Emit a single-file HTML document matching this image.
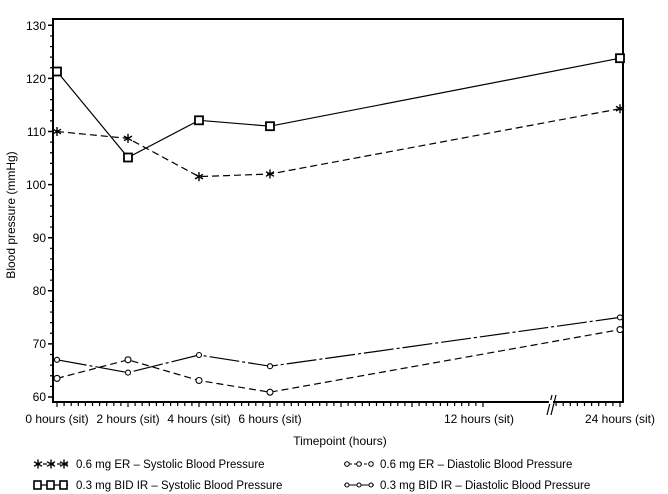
<!DOCTYPE html>
<html><head><style>
html,body{margin:0;padding:0;background:#fff;}
svg{display:block;font-family:"Liberation Sans",Arial,sans-serif;}
</style></head><body>
<svg width="668" height="494" viewBox="0 0 668 494" xmlns="http://www.w3.org/2000/svg">
<defs>
<g id="ast" stroke="#000" stroke-width="1.4" fill="none">
<path d="M0 -4.5V4.5M-4 -2.3L4 2.3M-4 2.3L4 -2.3"/>
</g>
</defs>
<rect x="0" y="0" width="668" height="494" fill="#fff"/>
<rect x="53" y="19" width="570" height="383" fill="none" stroke="#000" stroke-width="2"/>
<g stroke="#000" stroke-width="1.5">
<path d="M53 397h-5M53 343.9h-5M53 290.8h-5M53 237.7h-5M53 184.6h-5M53 131.5h-5M53 78.4h-5M53 25.3h-5"/>
</g>
<g stroke="#000" stroke-width="1.2" id="minor"></g>
<g font-size="12" text-anchor="end" fill="#000">
<text x="46" y="401">60</text><text x="46" y="348">70</text><text x="46" y="295">80</text><text x="46" y="242">90</text>
<text x="46" y="189">100</text><text x="46" y="136">110</text><text x="46" y="83">120</text><text x="46" y="30">130</text>
</g>
<text transform="translate(15,215) rotate(-90)" font-size="12" text-anchor="middle">Blood pressure (mmHg)</text>
<g stroke="#000" stroke-width="1.2" id="xt"></g>
<path d="M547 415 L552 395 M551 415 L556 395" stroke="#000" stroke-width="1.2"/>
<rect x="549" y="400" width="4" height="4" fill="#fff"/>
<g font-size="12" text-anchor="middle">
<text x="57" y="423">0 hours (sit)</text><text x="128" y="423">2 hours (sit)</text><text x="199" y="423">4 hours (sit)</text>
<text x="270" y="423">6 hours (sit)</text><text x="479" y="423">12 hours (sit)</text><text x="620" y="423">24 hours (sit)</text>
<text x="340" y="445">Timepoint (hours)</text>
</g>
<g fill="none" stroke="#000" stroke-width="1.2">
<polyline points="57,71.5 128,157.5 199,120.3 270,126.2 620,58.2"/>
<polyline points="57,131.5 128,138.4 199,176.6 270,174 620,108.7" stroke-dasharray="7,4"/>
<polyline points="57,378.4 128,359.8 199,380.5 270,392.2 620,329.6" stroke-dasharray="7,4"/>
<polyline points="57,359.8 128,372.6 199,355 270,366.2 620,317.4" stroke-dasharray="30,3,3,3"/>
</g>
<g fill="#fff" stroke="#000" stroke-width="1.8">
<rect x="53" y="67.5" width="8" height="8"/><rect x="124" y="153.5" width="8" height="8"/><rect x="195" y="116.3" width="8" height="8"/><rect x="266" y="122.2" width="8" height="8"/><rect x="616" y="54.2" width="8" height="8"/>
</g>
<g fill="#fff" stroke="#000" stroke-width="1.1">
<circle cx="57" cy="378.4" r="3"/><circle cx="128" cy="359.8" r="3"/><circle cx="199" cy="380.5" r="3"/><circle cx="270" cy="392.2" r="3"/><circle cx="620" cy="329.6" r="3"/>
<circle cx="57" cy="359.8" r="2.5"/><circle cx="128" cy="372.6" r="2.5"/><circle cx="199" cy="355" r="2.5"/><circle cx="270" cy="366.2" r="2.5"/><circle cx="620" cy="317.4" r="2.5"/>
</g>
<use href="#ast" x="57" y="131.5"/><use href="#ast" x="128" y="138.4"/><use href="#ast" x="199" y="176.6"/><use href="#ast" x="270" y="174"/><use href="#ast" x="620" y="108.7"/>
<g font-size="11.5">
<path d="M36 464h32" stroke="#000" stroke-width="1.2" stroke-dasharray="4,3"/>
<use href="#ast" x="38" y="464"/><use href="#ast" x="51" y="464"/><use href="#ast" x="64" y="464"/>
<text x="76" y="468">0.6 mg ER – Systolic Blood Pressure</text>
<path d="M36 485h32" stroke="#000" stroke-width="1.2"/>
<g fill="#fff" stroke="#000" stroke-width="1.6"><rect x="34" y="481" width="7" height="8"/><rect x="47" y="481" width="7" height="8"/><rect x="60" y="481" width="7" height="8"/></g>
<text x="76" y="489">0.3 mg BID IR – Systolic Blood Pressure</text>
<path d="M344 464h30" stroke="#000" stroke-width="1" stroke-dasharray="3,2"/>
<g fill="#fff" stroke="#000" stroke-width="1"><circle cx="347" cy="464" r="2.3"/><circle cx="359" cy="464" r="2.3"/><circle cx="371" cy="464" r="2.3"/></g>
<text x="380" y="468">0.6 mg ER – Diastolic Blood Pressure</text>
<path d="M344 485h30" stroke="#000" stroke-width="1"/>
<g fill="#fff" stroke="#000" stroke-width="1"><circle cx="347" cy="485" r="2"/><circle cx="359" cy="485" r="2"/><circle cx="371" cy="485" r="2"/></g>
<text x="380" y="489">0.3 mg BID IR – Diastolic Blood Pressure</text>
</g>
<script>
(function(){
var ns="http://www.w3.org/2000/svg",m=document.getElementById("minor"),d="";
for(var v=60;v<=130;v+=2){if(v%10)d+="M53 "+(397-(v-60)*5.31)+"h-3";}
var p=document.createElementNS(ns,"path");p.setAttribute("d",d);m.appendChild(p);
var x=document.getElementById("xt"),e="";
for(var i=0;i<=60;i++){var xx=57+i*7.1;if(xx>546)break;e+="M"+xx+" 402v"+(i%10==0?5:4);}
for(var xx=620;xx>556;xx-=7.1){e+="M"+xx+" 402v"+(xx==620?5:4);}
var q=document.createElementNS(ns,"path");q.setAttribute("d",e);x.appendChild(q);
})();
</script>
</svg>
</body></html>
